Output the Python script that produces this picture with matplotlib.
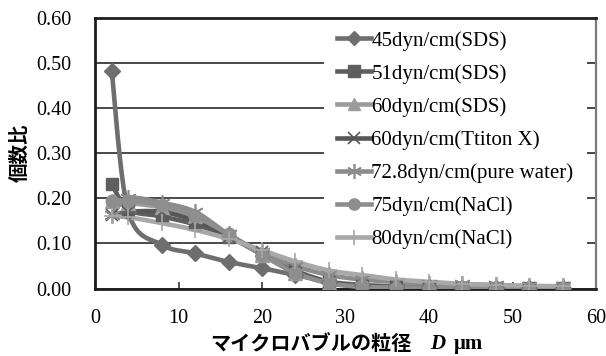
import numpy as np
import matplotlib
matplotlib.use("Agg")
import matplotlib.pyplot as plt
from matplotlib.lines import Line2D
from matplotlib.patches import Rectangle

# Bubble diameter classes (um)
diameters = [2, 4, 8, 12, 16, 20, 24, 28, 32, 36, 40, 44, 48, 52, 56]

series_labels = [
    "45dyn/cm(SDS)",
    "51dyn/cm(SDS)",
    "60dyn/cm(SDS)",
    "60dyn/cm(Ttiton X)",
    "72.8dyn/cm(pure water)",
    "75dyn/cm(NaCl)",
    "80dyn/cm(NaCl)",
]

sds45 = [0.483, 0.170, 0.097, 0.078, 0.059, 0.045, 0.030, 0.015, 0.008, 0.005, 0.003, 0.002, 0.001, 0.001, 0.001]
sds51 = [0.232, 0.175, 0.160, 0.142, 0.115, 0.075, 0.035, 0.013, 0.005, 0.003, 0.002, 0.002, 0.001, 0.001, 0.001]
sds60 = [0.195, 0.190, 0.180, 0.160, 0.120, 0.075, 0.035, 0.012, 0.004, 0.002, 0.002, 0.001, 0.001, 0.001, 0.001]
triton60 = [0.162, 0.170, 0.170, 0.150, 0.115, 0.080, 0.040, 0.015, 0.006, 0.003, 0.002, 0.002, 0.001, 0.001, 0.001]
water728 = [0.163, 0.200, 0.190, 0.170, 0.120, 0.080, 0.050, 0.030, 0.020, 0.015, 0.011, 0.010, 0.007, 0.005, 0.005]
nacl75 = [0.195, 0.195, 0.185, 0.160, 0.120, 0.075, 0.035, 0.012, 0.004, 0.002, 0.002, 0.001, 0.001, 0.001, 0.001]
nacl80 = [0.160, 0.158, 0.145, 0.130, 0.110, 0.085, 0.060, 0.040, 0.030, 0.020, 0.015, 0.010, 0.008, 0.006, 0.005]

series_values = [sds45, sds51, sds60, triton60, water728, nacl75, nacl80]

x_ticks = [0, 10, 20, 30, 40, 50, 60]
y_ticks = [0.0, 0.1, 0.2, 0.3, 0.4, 0.5, 0.6]
y_ticklabels = ["0.00", "0.10", "0.20", "0.30", "0.40", "0.50", "0.60"]

styles = [
    dict(color="#6e6e6e", marker="D", ms=8),
    dict(color="#5e5e5e", marker="s", ms=9),
    dict(color="#9c9c9c", marker="^", ms=10),
    dict(color="#575757", marker="x", ms=9, mew=1.2),
    dict(color="#8c8c8c", marker=(6, 2, 0), ms=12, mew=1.2),
    dict(color="#8e8e8e", marker="o", ms=9),
    dict(color="#a8a8a8", marker="+", ms=12, mew=1.2),
]


def smooth_curve(xs, ys, n=24):
    """Cardinal (Catmull-Rom) Bezier smoothing through every point."""
    p = np.column_stack([xs, ys]).astype(float)
    out = [p[0]]
    for i in range(len(p) - 1):
        p0 = p[i - 1] if i > 0 else p[i]
        p1 = p[i]
        p2 = p[i + 1]
        p3 = p[i + 2] if i + 2 < len(p) else p[i + 1]
        c1 = p1 + (p2 - p0) / 6.0
        c2 = p2 - (p3 - p1) / 6.0
        t = np.linspace(0, 1, n)[1:, None]
        seg = ((1 - t) ** 3) * p1 + 3 * ((1 - t) ** 2) * t * c1 + 3 * (1 - t) * t ** 2 * c2 + t ** 3 * p2
        out.extend(seg)
    out = np.array(out)
    return out[:, 0], out[:, 1]


plt.rcParams["font.family"] = ["Liberation Serif", "Noto Sans CJK JP"]

W, H = 606, 356
fig = plt.figure(figsize=(W / 100, H / 100), dpi=100)
ax = fig.add_axes([95 / W, 1 - 288.5 / H, 501 / W, 270.5 / H])

handles = []
for vals, st, lab in zip(series_values, styles, series_labels):
    sx, sy = smooth_curve(diameters, vals)
    ax.plot(sx, sy, color=st["color"], lw=3.3, solid_capstyle="round", zorder=3)
    ax.plot(diameters, vals, ls="none", marker=st["marker"], ms=st["ms"],
            color=st["color"], mec=st["color"], mew=st.get("mew", 1.0), zorder=4)
    handles.append(Line2D([0], [0], color=st["color"], lw=3.3, marker=st["marker"],
                          ms=st["ms"] * 0.9, mec=st["color"], mew=st.get("mew", 1.0)))

ax.set_xlim(0, 60)
ax.set_ylim(0, 0.6)
ax.set_xticks(x_ticks)
ax.set_xticklabels([str(v) for v in x_ticks], fontsize=14.5)
ax.set_yticks(y_ticks)
ax.set_yticklabels(y_ticklabels, fontsize=14.5)
ax.tick_params(axis="y", length=0, pad=17)
ax.tick_params(axis="x", direction="in", length=5, width=1.2, color="#333333", pad=15)

ax.grid(axis="y", color="#2a2a2a", lw=1.2, zorder=1)
for side in ("left", "bottom", "top"):
    ax.spines[side].set_color("#1e1e1e")
    ax.spines[side].set_linewidth(2.0)
ax.spines["right"].set_color("#7a7a7a")
ax.spines["right"].set_linewidth(1.6)

# white legend panel (hides the gridlines behind the legend)
panel = Rectangle((324 / W, 1 - 255 / H), (587 - 324) / W, (255 - 19) / H,
                  transform=fig.transFigure, facecolor="white", edgecolor="none",
                  zorder=2)
ax.add_artist(panel)
panel.set_clip_on(False)

leg = ax.legend(handles, series_labels, loc="upper left",
                bbox_to_anchor=(324 / W, 1 - 18 / H), bbox_transform=fig.transFigure,
                fontsize=15, frameon=False, borderaxespad=0,
                handlelength=1.65, handletextpad=0.0, labelspacing=0.64,
                borderpad=0.62)
leg.set_zorder(5)

ax.set_ylabel("個数比", family=["Noto Sans CJK JP"], fontsize=14, fontweight="bold",
              labelpad=5)
fig.text(210 / W, 1 - 343 / H, "マイクロバブルの粒径", family=["Noto Sans CJK JP"],
         fontsize=14.5, fontweight="bold", ha="left", va="center")
fig.text(430 / W, 1 - 344 / H, "D", family=["Liberation Serif"], fontsize=15,
         fontweight="bold", style="italic", ha="left", va="center")
fig.text(454 / W, 1 - 344 / H, "μm", family=["Liberation Serif"], fontsize=15,
         fontweight="bold", ha="left", va="center")

fig.savefig("out.png", dpi=100)
